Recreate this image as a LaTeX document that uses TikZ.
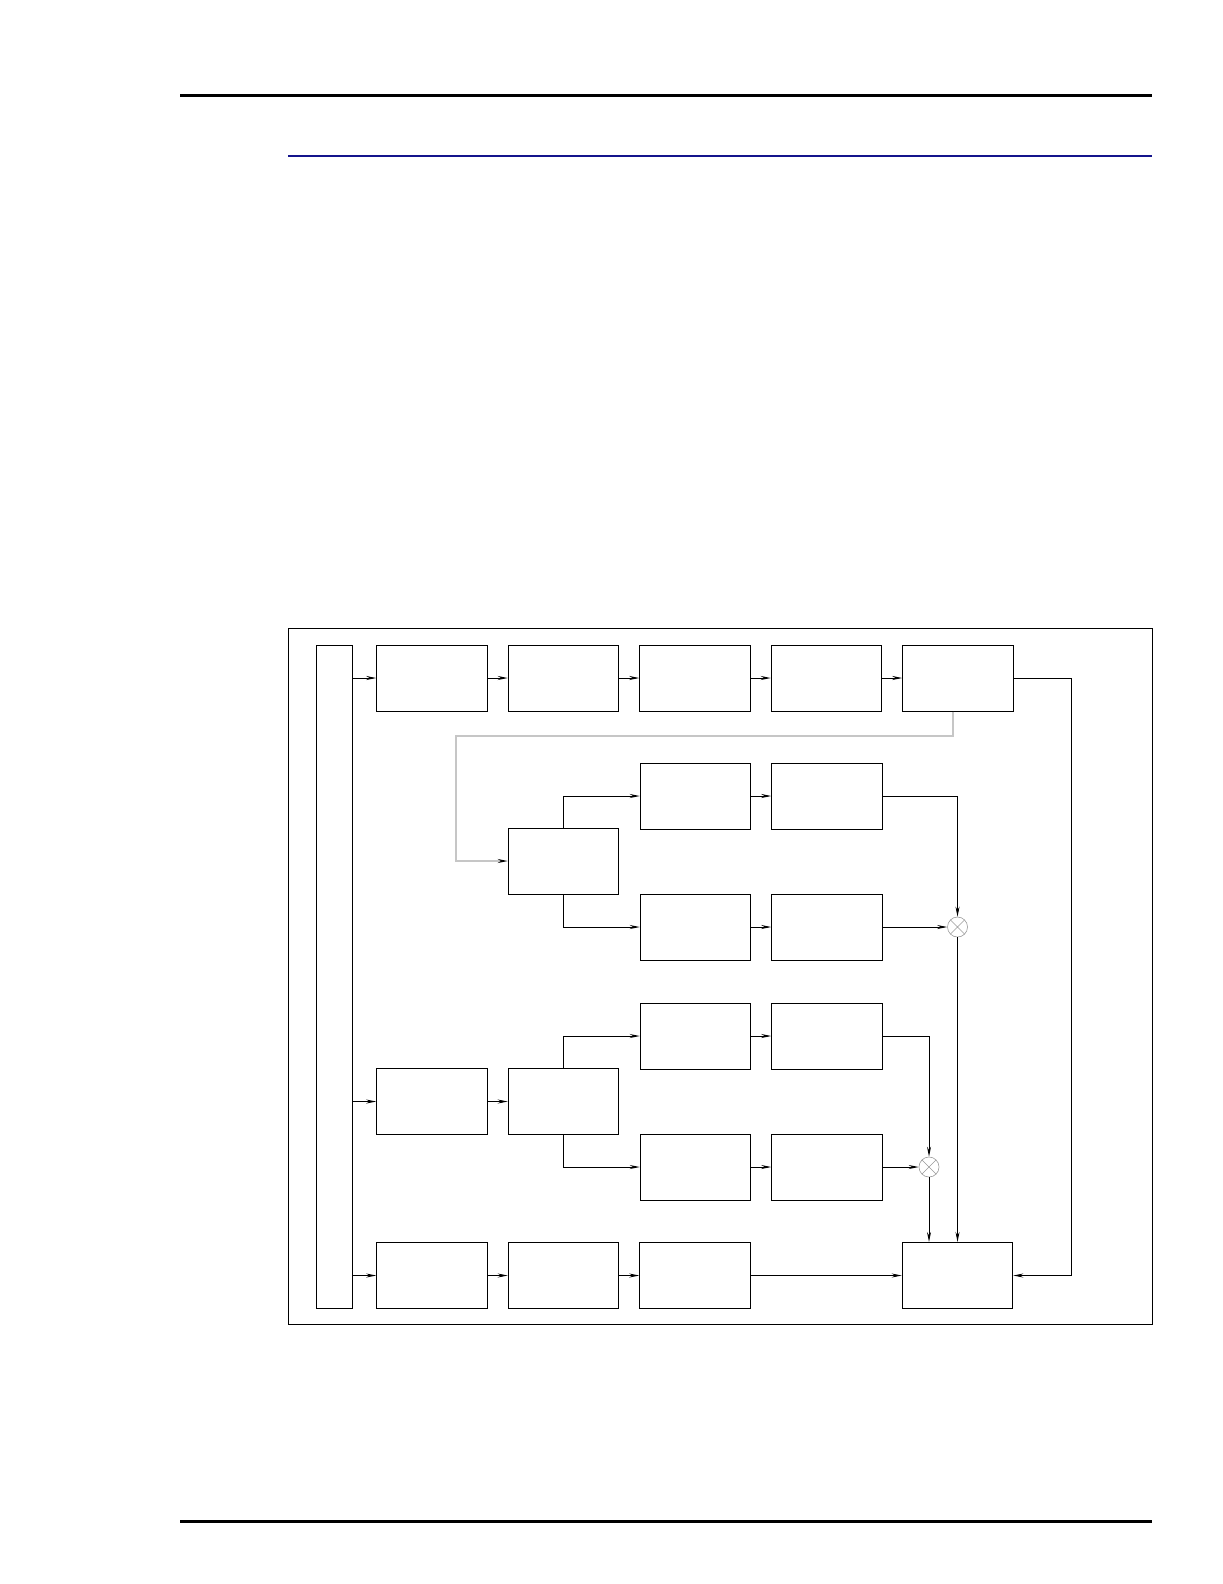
\documentclass[tikz,border=0pt]{standalone}
\usepackage{tikz}
\usetikzlibrary{arrows.meta,positioning,calc}

\definecolor{rulenavy}{RGB}{20,20,140}

\begin{document}
\begin{tikzpicture}[
    x=0.5pt, y=-0.5pt,
    node distance=10pt,
    block/.style={rectangle, draw, line width=0.5pt, inner sep=0pt, minimum width=55.25pt, minimum height=33pt},
    bus/.style={rectangle, draw, line width=0.5pt, inner sep=0pt, minimum width=18pt, minimum height=331.5pt},
    mult/.style={circle, draw=gray!80, line width=0.3pt, inner sep=0pt, minimum size=10pt,
        path picture={\draw[gray!80, line width=0.3pt] (path picture bounding box.north west) -- (path picture bounding box.south east)
            (path picture bounding box.north east) -- (path picture bounding box.south west);}},
    arrow/.style={-{Stealth[length=5pt, width=2pt]}, line width=0.5pt},
    grey_arrow/.style={-{Stealth[length=5pt, width=2pt, color=black]}, line width=0.6pt, draw=gray!45}
]
\useasboundingbox (0,0) rectangle (1222,1584);

% Page rules
\draw[line width=1.5pt] (180,95.5) -- (1152,95.5);
\draw[rulenavy, line width=0.8pt] (288,156) -- (1152,156);
\draw[line width=1.5pt] (180,1521) -- (1152,1521);

% Frame
\draw[line width=0.5pt] (288,628) rectangle (1152,1324);

% Input bus
\node[bus] (bus) at (334,976.5) {};

% Top chain
\node[block] (top1) at (432,678) {};
\node[block, right=of top1] (top2) {};
\node[block, right=of top2] (top3) {};
\node[block, right=of top3] (top4) {};
\node[block, right=of top4] (top5) {};

% Upper branch
\node[block] (split1) at (563.5,861) {};
\node[block] (upA1) at (695.5,796) {};
\node[block, right=of upA1] (upA2) {};
\node[block] (upB1) at (695.5,927) {};
\node[block, right=of upB1] (upB2) {};
\node[mult] (mult1) at (957.5,927) {};

% Lower branch
\node[block] (mid1) at (432,1101.5) {};
\node[block, right=of mid1] (split2) {};
\node[block] (loA1) at (695.5,1036) {};
\node[block, right=of loA1] (loA2) {};
\node[block] (loB1) at (695.5,1167) {};
\node[block, right=of loB1] (loB2) {};
\node[mult] (mult2) at (929,1167) {};

% Bottom chain
\node[block] (bot1) at (432,1275.5) {};
\node[block, right=of bot1] (bot2) {};
\node[block, right=of bot2] (bot3) {};
\node[block] (final) at (957.5,1275.5) {};

% Arrows - top chain
\draw[arrow] (bus.east |- top1) -- (top1);
\draw[arrow] (top1) -- (top2);
\draw[arrow] (top2) -- (top3);
\draw[arrow] (top3) -- (top4);
\draw[arrow] (top4) -- (top5);
\draw[arrow] (top5.east) -- ++(29pt,0) |- (final.east);

% Grey feedback into upper branch
\coordinate (gcorner) at (456,736);
\draw[grey_arrow] ([xshift=-2.5pt]top5.south) |- (gcorner) |- (split1.west);

% Arrows - upper branch
\draw[arrow] (split1.north) |- (upA1.west);
\draw[arrow] (split1.south) |- (upB1.west);
\draw[arrow] (upA1) -- (upA2);
\draw[arrow] (upB1) -- (upB2);
\draw[arrow] (upA2.east) -| (mult1.north);
\draw[arrow] (upB2) -- (mult1);
\draw[arrow] (mult1.south) -- (mult1.south |- final.north);

% Arrows - lower branch
\draw[arrow] (bus.east |- mid1) -- (mid1);
\draw[arrow] (mid1) -- (split2);
\draw[arrow] (split2.north) |- (loA1.west);
\draw[arrow] (split2.south) |- (loB1.west);
\draw[arrow] (loA1) -- (loA2);
\draw[arrow] (loB1) -- (loB2);
\draw[arrow] (loA2.east) -| (mult2.north);
\draw[arrow] (loB2) -- (mult2);
\draw[arrow] (mult2.south) -- (mult2.south |- final.north);

% Arrows - bottom chain
\draw[arrow] (bus.east |- bot1) -- (bot1);
\draw[arrow] (bot1) -- (bot2);
\draw[arrow] (bot2) -- (bot3);
\draw[arrow] (bot3) -- (final);

\end{tikzpicture}
\end{document}
